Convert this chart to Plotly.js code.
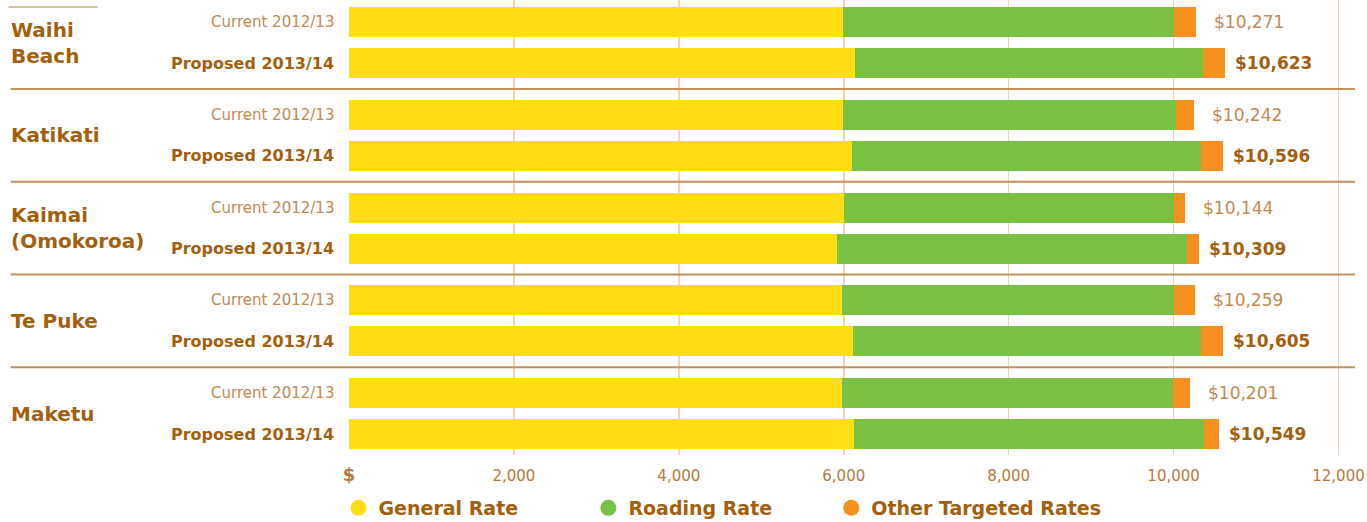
<!DOCTYPE html>
<html>
<head>
<meta charset="utf-8">
<script src="https://cdn.plot.ly/plotly-3.0.1.min.js"></script>
<style>html,body{margin:0;padding:0;background:#fff;}#chart{width:1367px;height:522px;}</style>
</head>
<body>
<div id="chart"></div>
<script>
// ---- data ----
const groups = ["Waihi<br>Beach", "Katikati", "Kaimai<br>(Omokoroa)", "Te Puke", "Maketu"];
const rowLabels = ["Current 2012/13", "Proposed 2013/14"];
// order: for each group -> current, proposed
const generalRate  = [5994, 6139, 5994, 6103, 6006, 5921, 5982, 6115, 5982, 6127];
const roadingRate  = [4012, 4222, 4036, 4230, 4000, 4243, 4024, 4218, 4012, 4243];
const otherRate    = [265, 262, 212, 263, 138, 145, 253, 272, 207, 179];
const totals       = [10271, 10623, 10242, 10596, 10144, 10309, 10259, 10605, 10201, 10549];
const seriesNames  = ["General Rate", "Roading Rate", "Other Targeted Rates"];
const tickValues   = [0, 2000, 4000, 6000, 8000, 10000, 12000];
const tickLabels   = ["$", "2,000", "4,000", "6,000", "8,000", "10,000", "12,000"];

// ---- layout helpers ----
const COLORS = ["#FFDD15", "#7AC143", "#F7901E"];
const DARK = "#A45F0E", LIGHT = "#C08A52", TICK = "#B57A3A";
const FONT = "DejaVu Sans, Verdana, sans-serif";
const groupStep = 92.75, rowStep = 41, firstRow = 22;
const ypos = [];
groups.forEach((g, gi) => rowLabels.forEach((r, ri) => ypos.push(firstRow + gi * groupStep + ri * rowStep)));
const ML = 348.5, PW = 1006.5, PH = 455;
const px2paper = p => (p - ML) / PW;
const legendLeft = [338, 588, 831];
const legendNames = ["legend", "legend2", "legend3"];

const traces = [generalRate, roadingRate, otherRate].map((vals, i) => ({
  type: "bar", orientation: "h", x: vals, y: ypos, width: 30,
  marker: {color: COLORS[i], line: {width: 0}}, name: seriesNames[i],
  showlegend: false, hoverinfo: "x+name"
}));
seriesNames.forEach((n, i) => traces.push({
  type: "scatter", mode: "markers", x: [null], y: [null], name: n, legend: legendNames[i],
  marker: {color: COLORS[i], size: 16, symbol: "circle"}, showlegend: true
}));

const annotations = [];
ypos.forEach((y, k) => {
  const prop = k % 2 === 1;
  annotations.push({
    xref: "paper", yref: "y", x: 0, y: y, xanchor: "right", yanchor: "middle", xshift: -13,
    text: prop ? "<b>" + rowLabels[1] + "</b>" : rowLabels[0], showarrow: false,
    font: {family: FONT, size: prop ? 16 : 15, color: prop ? DARK : LIGHT}
  });
  annotations.push({
    xref: "x", yref: "y", x: totals[k], y: y, xanchor: "left", yanchor: "middle", xshift: prop ? 8 : 16,
    text: prop ? "<b>$" + totals[k].toLocaleString("en-US") + "</b>" : "$" + totals[k].toLocaleString("en-US"),
    showarrow: false, font: {family: FONT, size: 17, color: prop ? DARK : LIGHT}
  });
});
groups.forEach((g, gi) => {
  annotations.push({
    xref: "paper", yref: "y", x: px2paper(8), y: firstRow + gi * groupStep + rowStep / 2,
    xanchor: "left", yanchor: "middle", align: "left", text: "<b>" + g + "</b>", showarrow: false,
    font: {family: FONT, size: 20, color: DARK}
  });
});

const shapes = [{
  type: "line", xref: "paper", yref: "y", x0: px2paper(8), x1: px2paper(97), y0: 7, y1: 7,
  line: {color: "#CFA67C", width: 1.5}
}];
for (let gi = 0; gi < groups.length - 1; gi++) {
  const y = firstRow + gi * groupStep + rowStep + (groupStep - rowStep) / 2;
  shapes.push({type: "line", xref: "paper", yref: "y", x0: px2paper(10), x1: 1, y0: y, y1: y,
    line: {color: "#C4915A", width: 2}});
}

const layout = {
  width: 1367, height: 522,
  margin: {l: ML, r: 1367 - ML - PW, t: 0, b: 522 - PH, autoexpand: false},
  barmode: "stack", bargap: 0,
  paper_bgcolor: "#fff", plot_bgcolor: "#fff",
  xaxis: {range: [0, 12200], tickvals: tickValues,
    ticktext: tickLabels.map((t, i) => i === 0 ? "<b><span style='font-size:18px'>" + t + "</span></b>" : t),
    showgrid: true, gridcolor: "#EFD3B3", gridwidth: 1.5, zeroline: true, zerolinecolor: "rgba(0,0,0,0)", zerolinewidth: 0,
    showline: false, ticks: "", ticklabelstandoff: 10, tickfont: {family: FONT, size: 15, color: TICK}, fixedrange: true},
  yaxis: {range: [PH, 0], showgrid: false, zeroline: false, showticklabels: false, ticks: "", fixedrange: true},
  annotations: annotations, shapes: shapes,
  font: {family: FONT}
};
legendNames.forEach((ln, i) => {
  layout[ln] = {orientation: "h", x: px2paper(legendLeft[i]), xanchor: "left", y: (PH - 508) / PH, yanchor: "middle",
    font: {family: FONT, size: 19, color: DARK, weight: "bold"}, bgcolor: "rgba(0,0,0,0)",
    itemclick: false, itemdoubleclick: false};
});
Plotly.newPlot("chart", traces, layout, {displayModeBar: false, staticPlot: true});
</script>
</body>
</html>
